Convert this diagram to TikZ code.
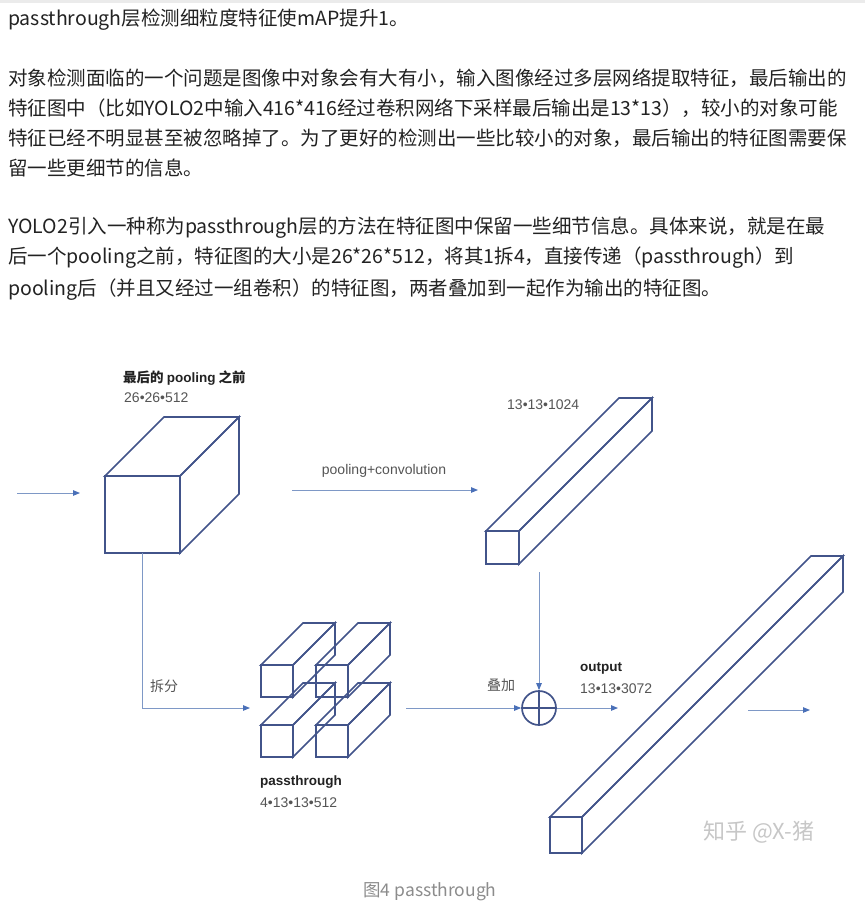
\documentclass[tikz,border=0pt]{standalone}
\usepackage{fontspec}
\setmainfont{Noto Sans CJK SC}
\newfontfamily\lat{Liberation Sans}
\usetikzlibrary{arrows.meta}
\definecolor{boxc}{HTML}{42548A}
\definecolor{arrc}{HTML}{7E98C6}
\definecolor{tipc}{HTML}{4A70B8}
\definecolor{txt}{HTML}{222222}
\definecolor{lbl}{HTML}{555555}
\tikzset{
  box/.style={draw=boxc, line width=1.7pt, line join=miter},
  conn/.style={draw=arrc, line width=1pt},
  arr/.style={conn, -{Triangle[length=7pt,width=5.5pt,color=tipc]}},
  para/.style={anchor=west, inner sep=0pt, text=txt, font=\fontsize{19.5}{19.5}\selectfont},
  ttl/.style={anchor=west, inner sep=0pt, text=txt, font=\fontsize{13.5}{13.5}\selectfont\bfseries},
  val/.style={anchor=west, inner sep=0pt, text=lbl, font=\lat\fontsize{14}{14}\selectfont},
  cval/.style={anchor=west, inner sep=0pt, text=lbl, font=\fontsize{14}{14}\selectfont},
}
\newcommand\mycuboid[6]{% name, x, y, w, h, d
  \draw[box] (#2,#3) -- ({#2+#6},{#3-#6}) -- ({#2+#4+#6},{#3-#6}) -- ({#2+#4},#3) -- cycle;
  \draw[box] ({#2+#4},#3) -- ({#2+#4+#6},{#3-#6}) -- ({#2+#4+#6},{#3+#5-#6}) -- ({#2+#4},{#3+#5}) -- cycle;
  \draw[box] (#2,#3) rectangle ({#2+#4},{#3+#5});
  \coordinate (#1-bottom) at ({#2+#4/2},{#3+#5});
}
\begin{document}
\begin{tikzpicture}[x=1pt,y=-1pt]
\useasboundingbox (0,0) rectangle (865,916);
\fill[white] (0,0) rectangle (865,916);
\fill[black!8] (0,0) rectangle (865,3);
% paragraph text
\node[para] (l1) at (8,20) {passthrough层检测细粒度特征使mAP提升1。};
\node[para] (l2) at (8,78) {对象检测面临的一个问题是图像中对象会有大有小，输入图像经过多层网络提取特征，最后输出的};
\node[para] (l3) at (8,108) {特征图中（比如YOLO2中输入416*416经过卷积网络下采样最后输出是13*13），较小的对象可能};
\node[para] (l4) at (8,138) {特征已经不明显甚至被忽略掉了。为了更好的检测出一些比较小的对象，最后输出的特征图需要保};
\node[para] (l5) at (8,168) {留一些更细节的信息。};
\node[para] (l6) at (8,228) {YOLO2引入一种称为passthrough层的方法在特征图中保留一些细节信息。具体来说，就是在最};
\node[para] (l7) at (8,258) {后一个pooling之前，特征图的大小是26*26*512，将其1拆4，直接传递（passthrough）到};
\node[para] (l8) at (8,290) {pooling后（并且又经过一组卷积）的特征图，两者叠加到一起作为输出的特征图。};

% shapes
\mycuboid{cube}{105}{476}{75}{77}{59}
\mycuboid{bar}{486}{531}{33}{33}{133}
\mycuboid{ptr}{316}{665}{32}{32}{42}
\mycuboid{ptl}{261}{665}{32}{32}{42}
\mycuboid{pbr}{316}{725}{32}{32}{42}
\mycuboid{pbl}{261}{725}{32}{32}{42}
\mycuboid{big}{550}{817}{32}{36}{261}

\node[circle, draw=boxc, line width=1.7pt, minimum size=34pt, inner sep=0pt] (plus) at (539,708) {};
\draw[boxc, line width=1.5pt] (plus.north) -- (plus.south) (plus.west) -- (plus.east);

% labels
\node[ttl] (t1) at (123,378) {最后的 {\lat pooling} 之前};
\node[val] (v1) at (124,398) {26•26•512};
\node[val, anchor=center] (pc) at (384,471) {pooling+convolution};
\node[val] (v2) at (507,405) {13•13•1024};
\node[cval] (split) at (150,686) {拆分};
\node[ttl, font=\lat\fontsize{13.5}{13.5}\selectfont\bfseries] (t2) at (260,782) {passthrough};
\node[val] (v3) at (260,803) {4•13•13•512};
\node[cval] (add) at (487,685) {叠加};
\node[ttl, font=\lat\fontsize{13.5}{13.5}\selectfont\bfseries] (t3) at (580,668) {output};
\node[val] (v4) at (580,689) {13•13•3072};
\node[anchor=west, inner sep=0pt, text=black!22, font=\fontsize{22}{22}\selectfont] (wm) at (703,832) {知乎 @X-猪};
\node[anchor=center, inner sep=0pt, text=black!45, font=\fontsize{17.5}{17.5}\selectfont] (cap) at (430,892) {图4 passthrough};

% connectors
\coordinate (in0) at (17,493);
\coordinate (in1) at (80,493);
\coordinate (pl0) at (292,490);
\coordinate (pl1) at (478,490);
\coordinate (sp1) at (250,708);
\coordinate (pt0) at (406,708);
\coordinate (dn0) at (539,572);
\coordinate (out1) at (618,708);
\coordinate (r0) at (748,710);
\coordinate (r1) at (810,710);
\draw[arr] (in0) -- (in1);
\draw[arr] (pl0) -- (pl1);
\draw[arr] (cube-bottom) |- (sp1);
\draw[arr] (pt0) -- (plus.west);
\draw[arr] (dn0) -- (plus.north);
\draw[arr] (plus.east) -- (out1);
\draw[arr] (r0) -- (r1);
\end{tikzpicture}
\end{document}
